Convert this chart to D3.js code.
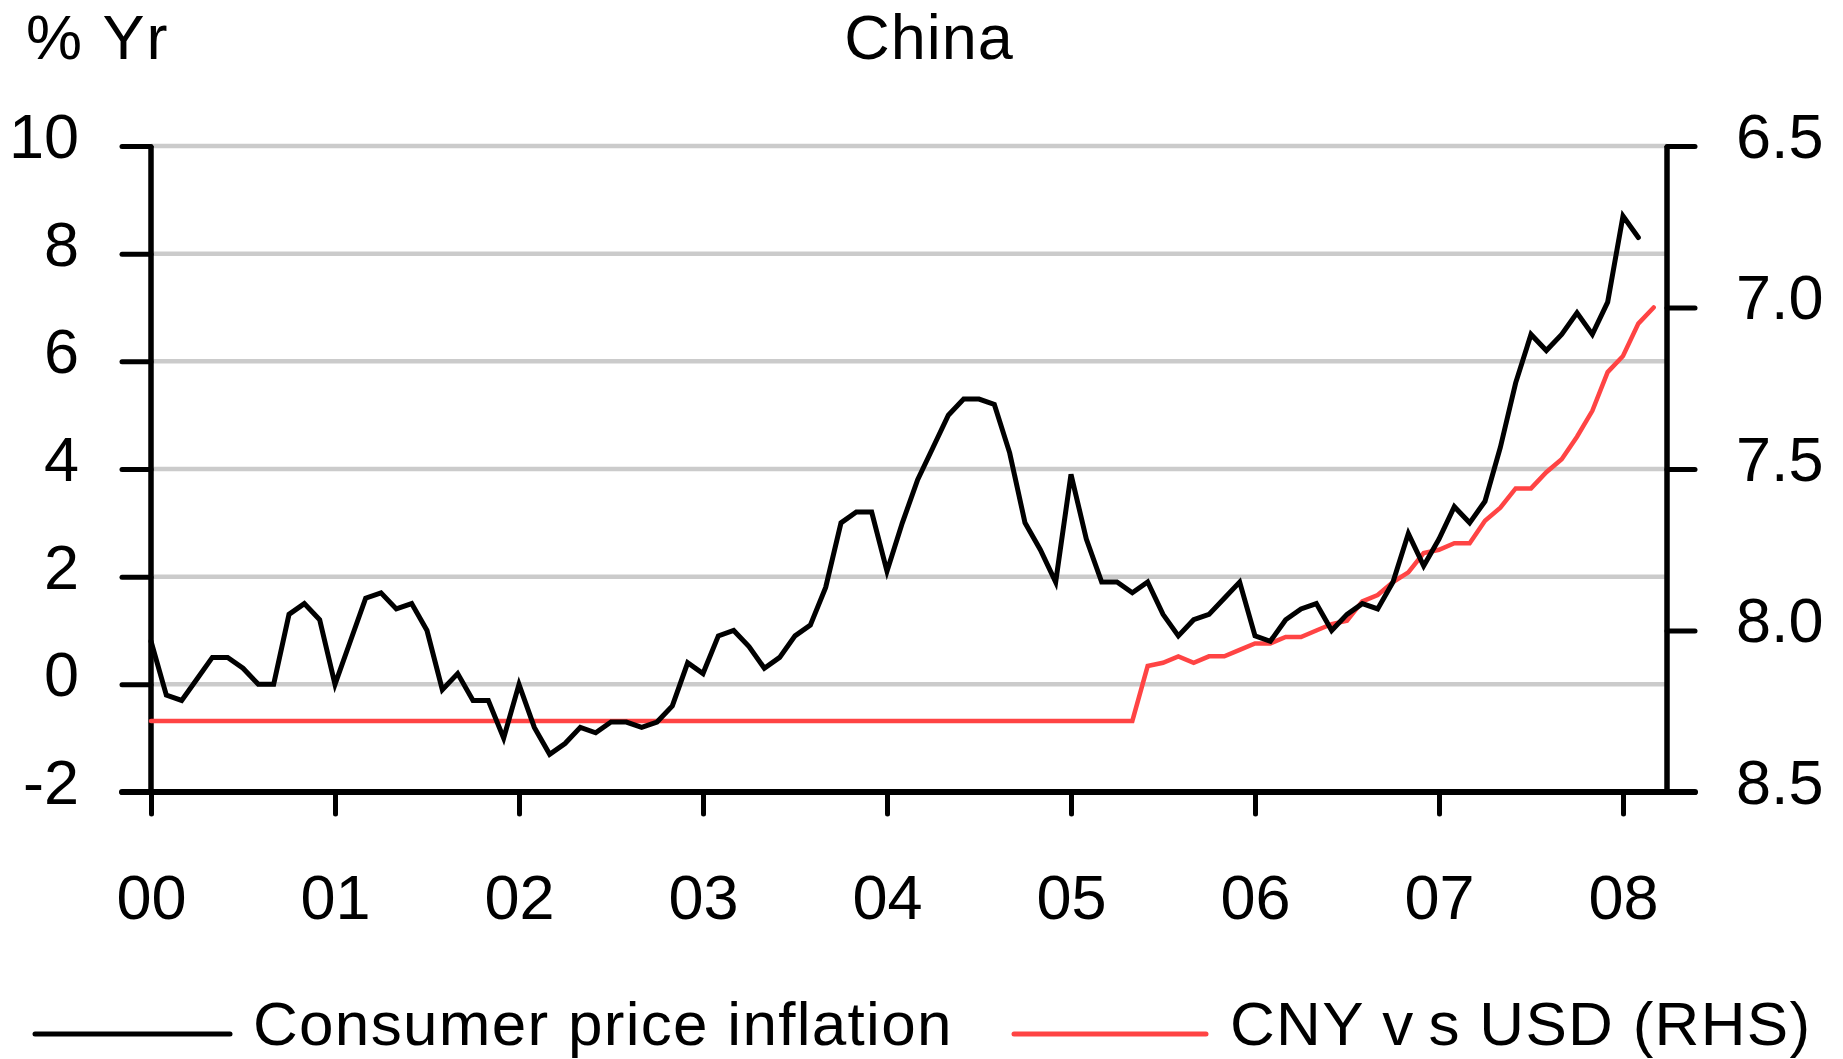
<!DOCTYPE html>
<html>
<head>
<meta charset="utf-8">
<script src="https://cdn.jsdelivr.net/npm/d3@7"></script>
<style>
  body { margin: 0; background: #fff; }
  svg text { font-family: "Liberation Sans", Arial, sans-serif; fill: #000; }
</style>
</head>
<body>
<svg width="1843" height="1059"></svg>
<script>
// Data: monthly, first point sits on the "00" tick
var cpi = [
  0.8, -0.2, -0.3, 0.1, 0.5, 0.5, 0.3, 0.0, 0.0, 1.3, 1.5, 1.2,
  0.0, 0.8, 1.6, 1.7, 1.4, 1.5, 1.0, -0.1, 0.2, -0.3, -0.3, -1.0,
  0.0, -0.8, -1.3, -1.1, -0.8, -0.9, -0.7, -0.7, -0.8, -0.7, -0.4, 0.4,
  0.2, 0.9, 1.0, 0.7, 0.3, 0.5, 0.9, 1.1, 1.8, 3.0, 3.2, 3.2,
  2.1, 3.0, 3.8, 4.4, 5.0, 5.3, 5.3, 5.2, 4.3, 3.0, 2.5, 1.9,
  3.9, 2.7, 1.9, 1.9, 1.7, 1.9, 1.3, 0.9, 1.2, 1.3, 1.6, 1.9,
  0.9, 0.8, 1.2, 1.4, 1.5, 1.0, 1.3, 1.5, 1.4, 1.9, 2.8, 2.2,
  2.7, 3.3, 3.0, 3.4, 4.4, 5.6, 6.5, 6.2, 6.5, 6.9, 6.5, 7.1,
  8.7, 8.3
];
var cny = [
  8.28, 8.28, 8.28, 8.28, 8.28, 8.28, 8.28, 8.28, 8.28, 8.28, 8.28, 8.28,
  8.28, 8.28, 8.28, 8.28, 8.28, 8.28, 8.28, 8.28, 8.28, 8.28, 8.28, 8.28,
  8.28, 8.28, 8.28, 8.28, 8.28, 8.28, 8.28, 8.28, 8.28, 8.28, 8.28, 8.28,
  8.28, 8.28, 8.28, 8.28, 8.28, 8.28, 8.28, 8.28, 8.28, 8.28, 8.28, 8.28,
  8.28, 8.28, 8.28, 8.28, 8.28, 8.28, 8.28, 8.28, 8.28, 8.28, 8.28, 8.28,
  8.28, 8.28, 8.28, 8.28, 8.28, 8.11, 8.10, 8.08, 8.10, 8.08, 8.08, 8.06,
  8.04, 8.04, 8.02, 8.02, 8.00, 7.98, 7.97, 7.91, 7.89, 7.85, 7.82, 7.76,
  7.75, 7.73, 7.73, 7.66, 7.62, 7.56, 7.56, 7.51, 7.47, 7.40, 7.32, 7.20,
  7.15, 7.05, 7.00
];
var yearLabels = ["00", "01", "02", "03", "04", "05", "06", "07", "08"];
var leftTicks = [-2, 0, 2, 4, 6, 8, 10];
var rightTicks = [6.5, 7.0, 7.5, 8.0, 8.5];
var gridTicks = [0, 2, 4, 6, 8, 10];

var svg = d3.select("svg");
var fontSize = 63;

var x0 = 151, x1 = 1667, yTop = 146, yBot = 792;

// Scales
var x = d3.scaleLinear().domain([0, 96]).range([x0, 1623]);
var yL = d3.scaleLinear().domain([-2, 10]).range([yBot, yTop]);
var yR = d3.scaleLinear().domain([8.5, 6.5]).range([yBot, yTop]);

// Gridlines
svg.append("g")
  .selectAll("line")
  .data(gridTicks)
  .enter()
  .append("line")
  .attr("x1", x0)
  .attr("x2", x1)
  .attr("y1", function (d) { return yL(d); })
  .attr("y2", function (d) { return yL(d); })
  .attr("stroke", "#cbcbcb")
  .attr("stroke-width", 4.5);

// Axes
function styleAxis(g) {
  g.select(".domain").remove();
  g.selectAll(".tick line")
    .attr("stroke", "#000")
    .attr("stroke-width", 5)
    .attr("stroke-linecap", "round");
  g.selectAll(".tick text")
    .attr("font-size", fontSize)
    .attr("font-family", "Liberation Sans, Arial, sans-serif")
    .attr("fill", "#000");
}

svg.append("g")
  .attr("transform", "translate(" + x0 + ",0)")
  .call(d3.axisLeft(yL).tickValues(leftTicks).tickSize(29).tickPadding(43)
    .tickFormat(function (d) { return String(d); }))
  .call(styleAxis)
  .selectAll(".tick text").attr("dy", "0.18em");

svg.append("g")
  .attr("transform", "translate(" + x1 + ",0)")
  .call(d3.axisRight(yR).tickValues(rightTicks).tickSize(28).tickPadding(41)
    .tickFormat(function (d) { return d.toFixed(1); }))
  .call(styleAxis)
  .selectAll(".tick text").attr("dy", "0.18em");

svg.append("g")
  .attr("transform", "translate(0," + yBot + ")")
  .call(d3.axisBottom(x).tickValues(d3.range(yearLabels.length).map(function (i) { return i * 12; }))
    .tickSize(22).tickPadding(60)
    .tickFormat(function (d) { return yearLabels[d / 12]; }))
  .call(styleAxis);

// Axis lines
svg.append("line")
  .attr("x1", x0).attr("x2", x0).attr("y1", yTop).attr("y2", yBot)
  .attr("stroke", "#000").attr("stroke-width", 5.5);
svg.append("line")
  .attr("x1", x1).attr("x2", x1).attr("y1", yTop).attr("y2", yBot)
  .attr("stroke", "#000").attr("stroke-width", 5.5);
svg.append("line")
  .attr("x1", 122).attr("x2", 1695).attr("y1", yBot).attr("y2", yBot)
  .attr("stroke", "#000").attr("stroke-width", 6).attr("stroke-linecap", "round");

// Lines
var cnyLine = d3.line()
  .x(function (d, i) { return x(i); })
  .y(function (d) { return yR(d); });
var cpiLine = d3.line()
  .x(function (d, i) { return x(i); })
  .y(function (d) { return yL(d); });

svg.append("path")
  .datum(cny)
  .attr("fill", "none")
  .attr("stroke", "#ff4444")
  .attr("stroke-width", 4.5)
  .attr("stroke-linecap", "round")
  .attr("d", cnyLine);

svg.append("path")
  .datum(cpi)
  .attr("fill", "none")
  .attr("stroke", "#000")
  .attr("stroke-width", 5)
  .attr("stroke-linecap", "round")
  .attr("d", cpiLine);

// Titles
svg.append("text")
  .attr("x", 26).attr("y", 59)
  .attr("font-size", fontSize)
  .attr("letter-spacing", 2)
  .text("% Yr");
svg.append("text")
  .attr("x", 929).attr("y", 59)
  .attr("text-anchor", "middle")
  .attr("font-size", fontSize)
  .attr("letter-spacing", 1)
  .text("China");

// Legend
var legend = svg.append("g").attr("font-size", 62);
legend.append("line")
  .attr("x1", 35).attr("x2", 230).attr("y1", 1034).attr("y2", 1034)
  .attr("stroke", "#000").attr("stroke-width", 5).attr("stroke-linecap", "round");
legend.append("text")
  .attr("x", 253).attr("y", 1045)
  .attr("letter-spacing", 1.3)
  .text("Consumer price inflation");
legend.append("line")
  .attr("x1", 1014).attr("x2", 1206).attr("y1", 1034).attr("y2", 1034)
  .attr("stroke", "#ff4444").attr("stroke-width", 5).attr("stroke-linecap", "round");
var t2 = legend.append("text")
  .attr("x", 1230).attr("y", 1045)
  .attr("letter-spacing", 1.3);
t2.append("tspan").text("CNY v");
t2.append("tspan").attr("dx", 14).text("s USD (RHS)");
</script>
</body>
</html>
